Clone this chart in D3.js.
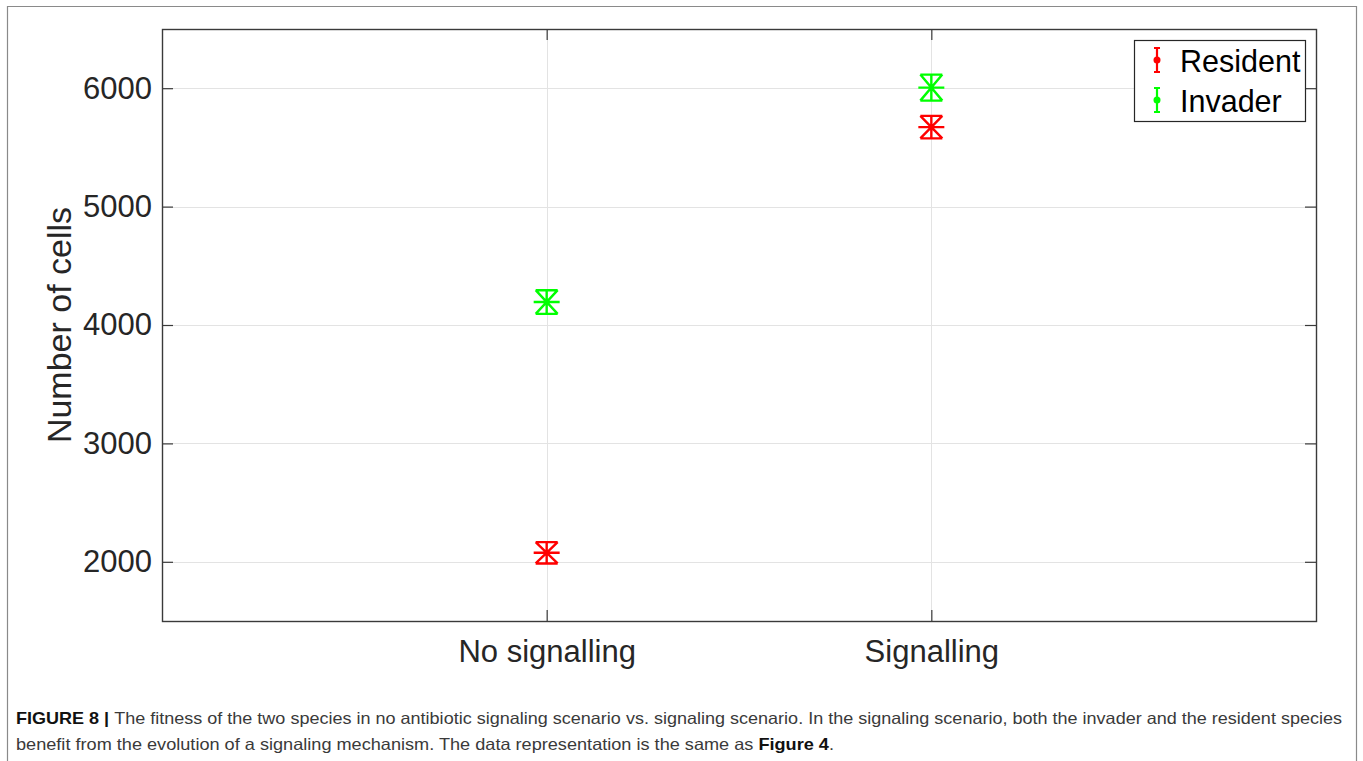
<!DOCTYPE html>
<html>
<head>
<meta charset="utf-8">
<script src="https://cdn.jsdelivr.net/npm/d3@7"></script>
<style>
  html, body { margin: 0; padding: 0; background: #fff; }
  svg { display: block; }
</style>
</head>
<body>
<svg id="chart" width="1363" height="761"></svg>
<script>
// Scenarios on the x axis
const categories = ["No signalling", "Signalling"];
// Mean cell counts per species, one value per scenario
const residentValues = [2076, 5671];
const invaderValues = [4194, 6005];
// Error half-widths per species, one value per scenario
const residentErrors = [90, 95];
const invaderErrors = [100, 110];
const yTicks = [2000, 3000, 4000, 5000, 6000];

const series = [
  { name: "Resident", color: "#ff0000", values: residentValues, errors: residentErrors },
  { name: "Invader", color: "#00ff00", values: invaderValues, errors: invaderErrors }
];

const svg = d3.select("#chart");
const W = 1363, H = 761;
const plot = { left: 162, top: 29, right: 1316, bottom: 621 };

// Outer figure frame (open at the bottom)
svg.append("path")
  .attr("d", `M7.5,${H} V6.5 H1356.5 V${H}`)
  .attr("fill", "none").attr("stroke", "#8a8a8a").attr("stroke-width", 1.2);

const x = d3.scaleLinear().domain([0, 3]).range([plot.left, plot.right]);
const y = d3.scaleLinear().domain([1500, 6500]).range([plot.bottom, plot.top]);
const xPos = (i) => x(i + 1);

const font = "'Liberation Sans', Arial, Helvetica, sans-serif";

// Grid lines
const grid = svg.append("g").attr("stroke", "#e3e3e3").attr("stroke-width", 1);
grid.selectAll("line.gy").data(yTicks).join("line")
  .attr("x1", plot.left).attr("x2", plot.right)
  .attr("y1", d => Math.round(y(d)) + 0.5).attr("y2", d => Math.round(y(d)) + 0.5);
grid.selectAll("line.gx").data(categories).join("line")
  .attr("y1", plot.top).attr("y2", plot.bottom)
  .attr("x1", (d, i) => Math.round(xPos(i)) + 0.5).attr("x2", (d, i) => Math.round(xPos(i)) + 0.5);

// Axes with inward ticks on all four sides
const tickLen = 11;
const axisColor = "#3a3a3a";
const yAxisL = d3.axisLeft(y).tickValues(yTicks).tickSize(-tickLen).tickPadding(10).tickFormat(d3.format("d"));
const yAxisR = d3.axisRight(y).tickValues(yTicks).tickSize(-tickLen).tickFormat("");
const xAxisB = d3.axisBottom(x).tickValues([1, 2]).tickSize(-tickLen).tickPadding(19).tickFormat(d => categories[d - 1]);
const xAxisT = d3.axisTop(x).tickValues([1, 2]).tickSize(-tickLen).tickFormat("");

function styleAxis(g) {
  g.select(".domain").remove();
  g.selectAll(".tick line").attr("stroke", axisColor).attr("stroke-width", 1.2);
  g.selectAll(".tick text").attr("fill", "#262626").attr("font-family", font).attr("font-size", 31);
}
svg.append("g").attr("transform", `translate(${plot.left},0)`).call(yAxisL).call(styleAxis);
svg.append("g").attr("transform", `translate(${plot.right},0)`).call(yAxisR).call(styleAxis);
svg.append("g").attr("transform", `translate(0,${plot.bottom})`).call(xAxisB).call(styleAxis);
svg.append("g").attr("transform", `translate(0,${plot.top})`).call(xAxisT).call(styleAxis);

// Plot box
svg.append("rect")
  .attr("x", plot.left + 0.5).attr("y", plot.top + 0.5)
  .attr("width", plot.right - plot.left).attr("height", plot.bottom - plot.top)
  .attr("fill", "none").attr("stroke", axisColor).attr("stroke-width", 1.4);

// Y axis title
svg.append("text")
  .attr("transform", `translate(71,${(plot.top + plot.bottom) / 2}) rotate(-90)`)
  .attr("text-anchor", "middle")
  .attr("font-family", font).attr("font-size", 34).attr("fill", "#262626")
  .text("Number of cells");

// Error bars with asterisk markers
const capHalf = 11;
const arm = 13;
series.forEach(s => {
  const g = svg.append("g").attr("stroke", s.color).attr("stroke-width", 2.4).attr("fill", "none");
  s.values.forEach((v, i) => {
    const cx = xPos(i), cy = y(v);
    const yTop = y(v + s.errors[i]), yBot = y(v - s.errors[i]);
    const p = d3.path();
    // vertical bar and caps
    p.moveTo(cx, yTop); p.lineTo(cx, yBot);
    p.moveTo(cx - capHalf, yTop); p.lineTo(cx + capHalf, yTop);
    p.moveTo(cx - capHalf, yBot); p.lineTo(cx + capHalf, yBot);
    // asterisk
    p.moveTo(cx - arm, cy); p.lineTo(cx + arm, cy);
    p.moveTo(cx - capHalf, yTop); p.lineTo(cx + capHalf, yBot);
    p.moveTo(cx + capHalf, yTop); p.lineTo(cx - capHalf, yBot);
    g.append("path").attr("d", p.toString());
  });
});

// Legend
const legend = svg.append("g");
legend.append("rect")
  .attr("x", 1134.5).attr("y", 40.5).attr("width", 171).attr("height", 81)
  .attr("fill", "#fff").attr("stroke", "#262626").attr("stroke-width", 1.2);
series.forEach((s, i) => {
  const cy = 60 + i * 40;
  const lx = 1157;
  const g = legend.append("g");
  g.append("path")
    .attr("d", `M${lx},${cy - 12}V${cy + 12}M${lx - 3},${cy - 12}H${lx + 3}M${lx - 3},${cy + 12}H${lx + 3}`)
    .attr("stroke", s.color).attr("stroke-width", 2.2).attr("fill", "none");
  g.append("circle").attr("cx", lx).attr("cy", cy).attr("r", 3.5).attr("fill", s.color);
  g.append("text")
    .attr("x", 1180).attr("y", cy + 12)
    .attr("font-family", font).attr("font-size", 30.5).attr("fill", "#000")
    .text(s.name);
});

// Caption
const capFont = "'Liberation Sans', Arial, Helvetica, sans-serif";
const cap1 = svg.append("text")
  .attr("x", 16).attr("y", 724)
  .attr("font-family", capFont).attr("font-size", 16.5).attr("fill", "#3a3a3a")
  .attr("textLength", 1326).attr("lengthAdjust", "spacingAndGlyphs");
cap1.append("tspan").attr("font-weight", "bold").attr("fill", "#111").text("FIGURE 8 | ");
cap1.append("tspan").text("The fitness of the two species in no antibiotic signaling scenario vs. signaling scenario. In the signaling scenario, both the invader and the resident species");

const cap2 = svg.append("text")
  .attr("x", 16).attr("y", 750)
  .attr("font-family", capFont).attr("font-size", 16.5).attr("fill", "#3a3a3a")
  .attr("textLength", 818).attr("lengthAdjust", "spacingAndGlyphs");
cap2.append("tspan").text("benefit from the evolution of a signaling mechanism. The data representation is the same as ");
cap2.append("tspan").attr("font-weight", "bold").attr("fill", "#111").text("Figure 4");
cap2.append("tspan").text(".");
</script>
</body>
</html>
